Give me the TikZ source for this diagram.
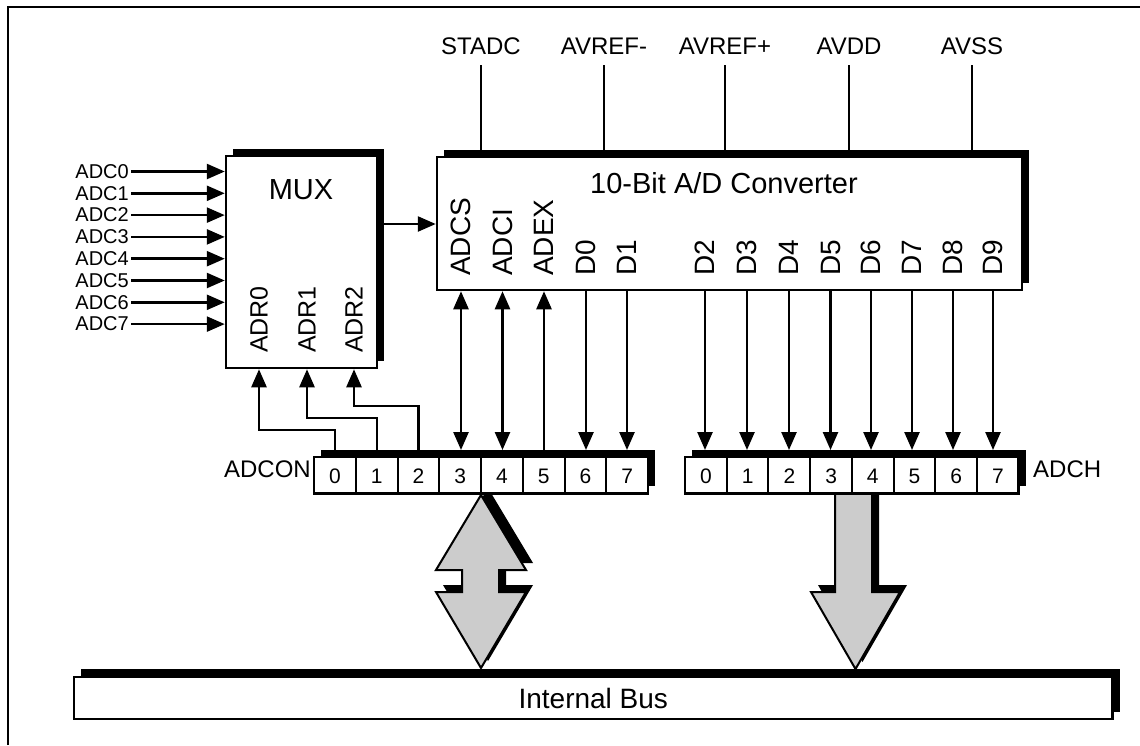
\documentclass[tikz,border=0pt]{standalone}
\usepackage{fontspec}
\setmainfont{Liberation Sans}
\usetikzlibrary{arrows.meta,shadows}
\begin{document}
\begin{tikzpicture}[x=1pt,y=-1pt,
  box/.style={draw, line width=2.5pt, fill=white, inner sep=0pt,
    general shadow={fill=black, shadow xshift=7pt, shadow yshift=7pt}},
  wire/.style={line width=2.5pt},
  arr/.style={line width=2.5pt, -{Triangle[length=18pt,width=15pt]}},
  darr/.style={line width=2.5pt, {Triangle[length=18pt,width=15pt]}-{Triangle[length=18pt,width=15pt]}},
  bigarr/.style={draw, line width=2pt, fill=gray!40,
    general shadow={fill=black, shadow xshift=7pt, shadow yshift=7pt}},
  divider/.style={line width=2pt},
  smalllbl/.style={font=\fontsize{20}{20}\selectfont, inner sep=0pt},
  toplbl/.style={font=\fontsize{24}{24}\selectfont, inner sep=0pt},
  biglbl/.style={font=\fontsize{29}{29}\selectfont, inner sep=0pt},
  vlbl/.style={rotate=90, anchor=west, inner sep=0pt, font=\fontsize{28}{28}\selectfont},
  vlblsm/.style={rotate=90, anchor=west, inner sep=0pt, font=\fontsize{25}{25}\selectfont},
  diglbl/.style={font=\fontsize{21}{21}\selectfont, inner sep=0pt},
  reglbl/.style={font=\fontsize{24}{24}\selectfont, inner sep=0pt}
]
\useasboundingbox (0,0) rectangle (1140,745);
% frame
\draw[line width=2.7pt] (8,745) -- (8,7) -- (1140,7);

% internal bus
\node[box, minimum width=1038.5pt, minimum height=42pt,
  general shadow={fill=black, shadow xshift=7pt, shadow yshift=8pt},
  font=\fontsize{28}{28}\selectfont] (bus) at (593.25,698) {Internal Bus};

% big arrows
\draw[bigarr] (481,495) -- (526,570) -- (499,570) -- (499,592) -- (526,592)
  -- (481,668) -- (436,592) -- (462,592) -- (462,570) -- (436,570) -- cycle;
\draw[bigarr] (835,493) -- (872,493) -- (872,592) -- (900,592) -- (855.5,669)
  -- (811,592) -- (835,592) -- cycle;

% registers
\node[box, minimum width=334pt, minimum height=36.5pt] (adcon) at (481,475) {};
\foreach \k in {1,...,7} \draw[divider] ({314+41.75*\k},457) -- ++(0,36.5);
\foreach \k in {0,...,7} \node[diglbl] (c\k) at ({335+41.75*\k},476) {\k};
\node[box, minimum width=333.5pt, minimum height=36.5pt] (adch) at (851.75,475) {};
\foreach \k in {1,...,7} \draw[divider] ({685+41.7*\k},457) -- ++(0,36.5);
\foreach \k in {0,...,7} \node[diglbl] (h\k) at ({706+41.7*\k},476) {\k};
\node[reglbl, anchor=east] (adconl) at (311,469) {ADCON};
\node[reglbl, anchor=west] (adchl) at (1033,469) {ADCH};
\coordinate (rtop) at (0,450);

% MUX
\node[box, minimum width=151pt, minimum height=212pt] (mux) at (301.5,262) {};
\node[biglbl] (muxl) at (301,190) {MUX};
\node[vlblsm] (lADR0) at (259,353) {ADR0};
\node[vlblsm] (lADR1) at (307,353) {ADR1};
\node[vlblsm] (lADR2) at (354,353) {ADR2};
\foreach \i in {0,...,7} {
  \node[smalllbl, anchor=east] (in\i) at (129,{171.5+21.8*\i}) {ADC\i};
  \draw[arr] ([xshift=2pt]in\i.east) -- (mux.west |- in\i.east);
}

% A/D converter
\node[box, minimum width=585pt, minimum height=133pt] (adc) at (729.5,223.5) {};
\node[biglbl] (adct) at (724,183) {10-Bit A/D Converter};
\foreach \x/\t/\n in {481/STADC/p1, 604/AVREF-/p2, 725/AVREF+/p3, 849/AVDD/p4, 972/AVSS/p5} {
  \node[toplbl, anchor=south] (\n) at (\x,55) {\t};
  \draw[wire] ([yshift=-10pt]\n.south) -- (\n.south |- adc.north);
}
\foreach \x/\t in {461/ADCS, 502.5/ADCI, 544/ADEX, 586/D0, 627/D1, 705/D2, 747/D3, 789/D4, 830.5/D5, 871/D6, 912/D7, 953/D8, 993/D9}
  \node[vlbl] (l\t) at (\x,276) {\t};

% MUX output
\coordinate (mo) at (380,224);
\draw[arr] (mo) -- (adc.west |- mo);

% ADC <-> ADCON
\draw[darr] (lADCS |- adc.south) -- (lADCS |- rtop);
\draw[darr] (lADCI |- adc.south) -- (lADCI |- rtop);
\draw[arr] (lADEX |- rtop) -- (lADEX |- adc.south);
\draw[arr] (lD0 |- adc.south) -- (lD0 |- rtop);
\draw[arr] (lD1 |- adc.south) -- (lD1 |- rtop);
% ADC -> ADCH
\foreach \t in {D2,D3,D4,D5,D6,D7,D8,D9}
  \draw[arr] (l\t |- adc.south) -- (l\t |- rtop);

% ADCON -> MUX address
\draw[arr] (c0 |- rtop) -- ++(0,-20) -| (lADR0 |- mux.south);
\draw[arr] (c1 |- rtop) -- ++(0,-32) -| (lADR1 |- mux.south);
\draw[arr] (c2 |- rtop) -- ++(0,-44) -| (lADR2 |- mux.south);
\end{tikzpicture}
\end{document}
